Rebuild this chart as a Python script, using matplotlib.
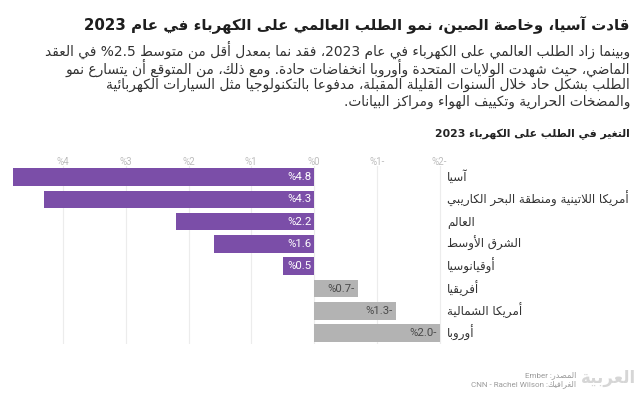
import re
import matplotlib
matplotlib.use('Agg')
import matplotlib.pyplot as plt

# ---------------- data ----------------
title = 'قادت آسيا، وخاصة الصين، نمو الطلب العالمي على الكهرباء في عام 2023'
subtitle_lines = [
    'وبينما زاد الطلب العالمي على الكهرباء في عام 2023، فقد نما بمعدل أقل من متوسط 2.5% في العقد',
    'الماضي، حيث شهدت الولايات المتحدة وأوروبا انخفاضات حادة. ومع ذلك، من المتوقع أن يتسارع نمو',
    'الطلب بشكل حاد خلال السنوات القليلة المقبلة، مدفوعا بالتكنولوجيا مثل السيارات الكهربائية',
    'والمضخات الحرارية وتكييف الهواء ومراكز البيانات.',
]
chart_title = 'التغير في الطلب على الكهرباء 2023'
categories = ['آسيا', 'أمريكا اللاتينية ومنطقة البحر الكاريبي', 'العالم', 'الشرق الأوسط',
              'أوقيانوسيا', 'أفريقيا', 'أمريكا الشمالية', 'أوروبا']
values = [4.8, 4.3, 2.2, 1.6, 0.5, -0.7, -1.3, -2.0]
tick_values = [4, 3, 2, 1, 0, -1, -2]
source_lines = ['المصدر: Ember', 'الغرافيك: CNN - Rachel Wilson']
logo_text = 'العربية'

# ---------------- Arabic shaping (presentation forms) + visual order ----------------
_LETTERS = [('\u0622', 0xFE81, 2), ('\u0623', 0xFE83, 2), ('\u0624', 0xFE85, 2),
            ('\u0625', 0xFE87, 2), ('\u0626', 0xFE89, 4), ('\u0627', 0xFE8D, 2),
            ('\u0628', 0xFE8F, 4), ('\u0629', 0xFE93, 2), ('\u062A', 0xFE95, 4),
            ('\u062B', 0xFE99, 4), ('\u062C', 0xFE9D, 4), ('\u062D', 0xFEA1, 4),
            ('\u062E', 0xFEA5, 4), ('\u062F', 0xFEA9, 2), ('\u0630', 0xFEAB, 2),
            ('\u0631', 0xFEAD, 2), ('\u0632', 0xFEAF, 2), ('\u0633', 0xFEB1, 4),
            ('\u0634', 0xFEB5, 4), ('\u0635', 0xFEB9, 4), ('\u0636', 0xFEBD, 4),
            ('\u0637', 0xFEC1, 4), ('\u0638', 0xFEC5, 4), ('\u0639', 0xFEC9, 4),
            ('\u063A', 0xFECD, 4), ('\u0641', 0xFED1, 4), ('\u0642', 0xFED5, 4),
            ('\u0643', 0xFED9, 4), ('\u0644', 0xFEDD, 4), ('\u0645', 0xFEE1, 4),
            ('\u0646', 0xFEE5, 4), ('\u0647', 0xFEE9, 4), ('\u0648', 0xFEED, 2),
            ('\u0649', 0xFEEF, 2), ('\u064A', 0xFEF1, 4)]
_START = {c: s for c, s, n in _LETTERS}
_JOIN = {c: n for c, s, n in _LETTERS}
_LAMALEF = {'\u0622': 0xFEF5, '\u0623': 0xFEF7, '\u0625': 0xFEF9, '\u0627': 0xFEFB}


def _shape(s):
    units = []
    i = 0
    while i < len(s):
        c = s[i]
        if c == '\u0644' and i + 1 < len(s) and s[i + 1] in _LAMALEF:
            units.append(('LA', s[i + 1]))
            i += 2
        else:
            units.append(('C', c))
            i += 1

    def jt(u):
        return 2 if u[0] == 'LA' else _JOIN.get(u[1], 0)

    out = []
    for k, u in enumerate(units):
        t = jt(u)
        if t == 0:
            out.append(u[1])
            continue
        jp = k > 0 and jt(units[k - 1]) == 4
        jn = t == 4 and k + 1 < len(units) and jt(units[k + 1]) in (2, 4)
        if u[0] == 'LA':
            out.append(chr(_LAMALEF[u[1]] + (1 if jp else 0)))
        elif t == 2:
            out.append(chr(_START[u[1]] + (1 if jp else 0)))
        else:
            idx = 3 if (jp and jn) else 1 if jp else 2 if jn else 0
            out.append(chr(_START[u[1]] + idx))
    return ''.join(out)


_LTR = re.compile(r'[A-Za-z0-9](?:[A-Za-z0-9 .\-]*[A-Za-z0-9])?')


def ar(s):
    s = _shape(s)
    parts, pos = [], 0
    for m in _LTR.finditer(s):
        if m.start() > pos:
            parts.append((False, s[pos:m.start()]))
        parts.append((True, m.group()))
        pos = m.end()
    if pos < len(s):
        parts.append((False, s[pos:]))
    return ''.join(p if ltr else p[::-1] for ltr, p in reversed(parts))


# ---------------- style ----------------
plt.rcParams['font.family'] = ['DejaVu Sans']
NUM_FONT = ['Roboto', 'DejaVu Sans']
W, H = 640, 398
POS_COLOR = '#7b4ea8'
NEG_COLOR = '#b3b3b3'

fig = plt.figure(figsize=(W / 100, H / 100), dpi=100)
fig.patch.set_facecolor('white')


def fx(px):
    return px / W


def fy(py):
    return 1 - py / H


# header
fig.text(fx(630), fy(25), ar(title), ha='right', va='center', fontsize=10.8,
         fontweight='bold', color='#1e1e1e')
for i, line in enumerate(subtitle_lines):
    fig.text(fx(630), fy(50 + 17.4 * i), ar(line), ha='right', va='center',
             fontsize=9.95, color='#333333')
fig.text(fx(630), fy(134), ar(chart_title), ha='right', va='center', fontsize=7.8,
         fontweight='bold', color='#222222')

# axes
ax_left, ax_right = 10, 445
row0, row_step = 177, 22.3
ax_top = row0 - row_step / 2
ax_bot = row0 + row_step * (len(categories) - 0.5)
ax = fig.add_axes([fx(ax_left), fy(ax_bot), (ax_right - ax_left) / W, (ax_bot - ax_top) / H])
x0px, unit = 314, 62.75
ax.set_xlim((x0px - ax_left) / unit, (x0px - ax_right) / unit)
ax.set_ylim(len(categories) - 0.5, -0.5)

ypos = list(range(len(categories)))
colors = [POS_COLOR if v >= 0 else NEG_COLOR for v in values]
ax.barh(ypos, values, height=0.785, color=colors, zorder=2)

for y, v in zip(ypos, values):
    lab = ar(f'{v:.1f}%')
    if v >= 0:
        ax.annotate(lab, xy=(0, y), xytext=(-2, 0), textcoords='offset pixels',
                    ha='right', va='center', fontsize=8.2, color='white', zorder=3,
                    family=NUM_FONT)
    else:
        ax.annotate(lab, xy=(v, y), xytext=(-3, 0), textcoords='offset pixels',
                    ha='right', va='center', fontsize=8.2, color='#4a4a4a', zorder=3,
                    family=NUM_FONT)

ax.set_xticks(tick_values)
ax.set_xticklabels([])
ax.set_yticks(ypos)
ax.set_yticklabels([])
ax.grid(axis='x', color='#ececec', linewidth=0.8, zorder=0)
ax.grid(axis='y', visible=False)
ax.set_axisbelow(True)
ax.tick_params(axis='both', length=0, top=False, bottom=False, left=False, right=False)
for t in tick_values:
    ax.annotate(ar(f'{t}%'), xy=(t, 1), xycoords=('data', 'axes fraction'),
                xytext=(0, 4), textcoords='offset pixels', ha='center', va='center',
                fontsize=7, color='#bdbdbd', family=NUM_FONT)

# category labels (right side, left-aligned)
for y, c in zip(ypos, categories):
    ax.annotate(ar(c), xy=(1, y), xycoords=('axes fraction', 'data'),
                xytext=(2, 0), textcoords='offset pixels', ha='left', va='center',
                fontsize=8.6, color='#333333', annotation_clip=False)
for s in ax.spines.values():
    s.set_visible(False)

# footer
fig.text(fx(576), fy(375), ar(source_lines[0]), ha='right', va='center', fontsize=5.8,
         color='#9a9a9a', family=NUM_FONT)
fig.text(fx(576), fy(384), ar(source_lines[1]), ha='right', va='center', fontsize=5.8,
         color='#9a9a9a', family=NUM_FONT)
fig.text(fx(609), fy(378), ar(logo_text), ha='center', va='center', fontsize=12,
         fontweight='bold', color='#d6d6d6')

fig.savefig('out.png', dpi=100, facecolor='white')
